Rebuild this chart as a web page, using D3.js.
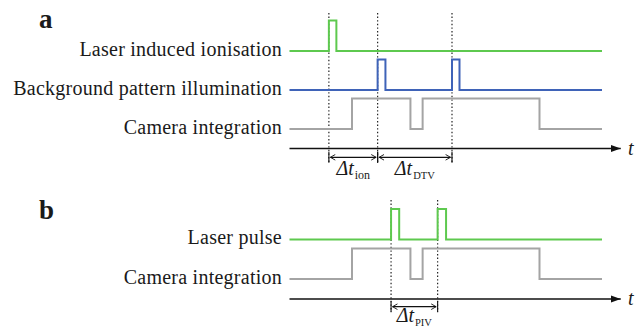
<!DOCTYPE html>
<html>
<head>
<meta charset="utf-8">
<script src="https://cdn.jsdelivr.net/npm/d3@7"></script>
<style>
  html, body { margin: 0; padding: 0; background: #fff; }
  svg { display: block; }
  .lbl { font-family: "Liberation Serif", "DejaVu Serif", serif; fill: #1a1a1a; }
</style>
</head>
<body>
<div id="chart"></div>
<script>
// Timing diagram: signal rows, each a list of [time, level] steps (level 0 = low, 1 = high)
const timeDomain = [0, 100];
const axisEnd = 106;

// Panel a
const aLabels = ["Laser induced ionisation", "Background pattern illumination", "Camera integration"];
const aColors = ["#5ec94f", "#3f63b8", "#a4a4a4"];
const aIonisation = [[0, 0], [12.6, 1], [15.0, 0], [100, 0]];
const aIllumination = [[0, 0], [28.2, 1], [30.7, 0], [52.0, 1], [54.4, 0], [100, 0]];
const aCamera = [[0, 0], [20.0, 1], [38.7, 0], [42.6, 1], [80.0, 0], [100, 0]];
const aMarkers = [12.6, 28.2, 52.0];
const aIntervals = [
  { from: 12.6, to: 28.2, sub: "ion" },
  { from: 28.2, to: 52.0, sub: "DTV" }
];

// Panel b
const bLabels = ["Laser pulse", "Camera integration"];
const bColors = ["#5ec94f", "#a4a4a4"];
const bLaser = [[0, 0], [32.5, 1], [35.1, 0], [47.4, 1], [50.1, 0], [100, 0]];
const bCamera = [[0, 0], [20.0, 1], [38.7, 0], [42.6, 1], [80.0, 0], [100, 0]];
const bMarkers = [32.5, 47.4];
const bIntervals = [{ from: 32.5, to: 47.4, sub: "PIV" }];

const W = 641, H = 329;
const svg = d3.select("#chart").append("svg").attr("width", W).attr("height", H);

const x = d3.scaleLinear().domain(timeDomain).range([289.5, 602]);
const level = d3.scaleLinear().domain([0, 1]).range([0, -30.5]);

const defs = svg.append("defs");
defs.append("marker").attr("id", "axisHead")
  .attr("viewBox", "0 0 10 10").attr("refX", 10).attr("refY", 5)
  .attr("markerWidth", 10).attr("markerHeight", 10).attr("markerUnits", "userSpaceOnUse")
  .attr("orient", "auto")
  .append("path").attr("d", "M0,1.5 L10,5 L0,8.5 Z").attr("fill", "#111");
defs.append("marker").attr("id", "openHead")
  .attr("viewBox", "0 0 10 10").attr("refX", 9).attr("refY", 5)
  .attr("markerWidth", 7).attr("markerHeight", 7).attr("markerUnits", "userSpaceOnUse")
  .attr("orient", "auto-start-reverse")
  .append("path").attr("d", "M2,1 L9,5 L2,9").attr("fill", "none")
  .attr("stroke", "#111").attr("stroke-width", 1.3);

const stepLine = d3.line()
  .x(d => x(d[0]))
  .y(d => level(d[1]))
  .curve(d3.curveStepAfter);

function panel(cfg) {
  const g = svg.append("g");

  // vertical dotted markers
  g.selectAll(".marker").data(cfg.markers).join("line")
    .attr("x1", d => x(d)).attr("x2", d => x(d))
    .attr("y1", cfg.markerTop).attr("y2", cfg.markerBottom)
    .attr("stroke", "#222").attr("stroke-width", 1.2)
    .attr("stroke-dasharray", "1.4,2.2");

  cfg.rows.forEach((row, i) => {
    const rg = g.append("g").attr("transform", `translate(0,${cfg.rowY[i]})`);
    rg.append("path").datum(row)
      .attr("d", stepLine)
      .attr("fill", "none")
      .attr("stroke", cfg.colors[i])
      .attr("stroke-width", 2)
      .attr("stroke-linejoin", "miter");
    rg.append("text").attr("class", "lbl")
      .attr("x", 282).attr("y", 4.5)
      .attr("text-anchor", "end")
      .attr("font-size", 20)
      .attr("letter-spacing", 0.25)
      .text(cfg.labels[i]);
  });

  // time axis
  g.append("line")
    .attr("x1", x(0)).attr("x2", x(axisEnd))
    .attr("y1", cfg.axisY).attr("y2", cfg.axisY)
    .attr("stroke", "#111").attr("stroke-width", 1.6)
    .attr("marker-end", "url(#axisHead)");
  g.append("text").attr("class", "lbl")
    .attr("x", 628).attr("y", cfg.axisY + 6)
    .attr("font-size", 20).attr("font-style", "italic")
    .text("t");

  // interval annotations
  cfg.intervals.forEach(iv => {
    const y = cfg.arrowY;
    g.append("line")
      .attr("x1", x(iv.from) + 1.5).attr("x2", x(iv.to) - 1.5)
      .attr("y1", y).attr("y2", y)
      .attr("stroke", "#111").attr("stroke-width", 1.2)
      .attr("marker-start", "url(#openHead)")
      .attr("marker-end", "url(#openHead)");
    [iv.from, iv.to].forEach(t => {
      g.append("line")
        .attr("x1", x(t)).attr("x2", x(t))
        .attr("y1", y - 5.5).attr("y2", y + 5.5)
        .attr("stroke", "#111").attr("stroke-width", 1.1);
    });
    const txt = g.append("text").attr("class", "lbl")
      .attr("x", (x(iv.from) + x(iv.to)) / 2).attr("y", cfg.labelY)
      .attr("text-anchor", "middle").attr("font-size", 20);
    txt.append("tspan").attr("font-style", "italic").text("\u0394t");
    txt.append("tspan").attr("font-size", iv.sub === "ion" ? 12 : 10.5)
      .attr("dy", 4).attr("dx", 1).text(iv.sub);
  });

  g.append("text").attr("class", "lbl")
    .attr("x", 39).attr("y", cfg.letterY)
    .attr("font-size", 27).attr("font-weight", "bold")
    .text(cfg.letter);
}

panel({
  letter: "a", letterY: 28,
  rows: [aIonisation, aIllumination, aCamera],
  labels: aLabels, colors: aColors,
  rowY: [51, 90, 129],
  axisY: 148.5,
  markers: aMarkers, markerTop: 13, markerBottom: 163,
  intervals: aIntervals, arrowY: 157.3, labelY: 175
});

panel({
  letter: "b", letterY: 219,
  rows: [bLaser, bCamera],
  labels: bLabels, colors: bColors,
  rowY: [239.5, 279],
  axisY: 299,
  markers: bMarkers, markerTop: 200, markerBottom: 312,
  intervals: bIntervals, arrowY: 306.7, labelY: 322
});
</script>
</body>
</html>
